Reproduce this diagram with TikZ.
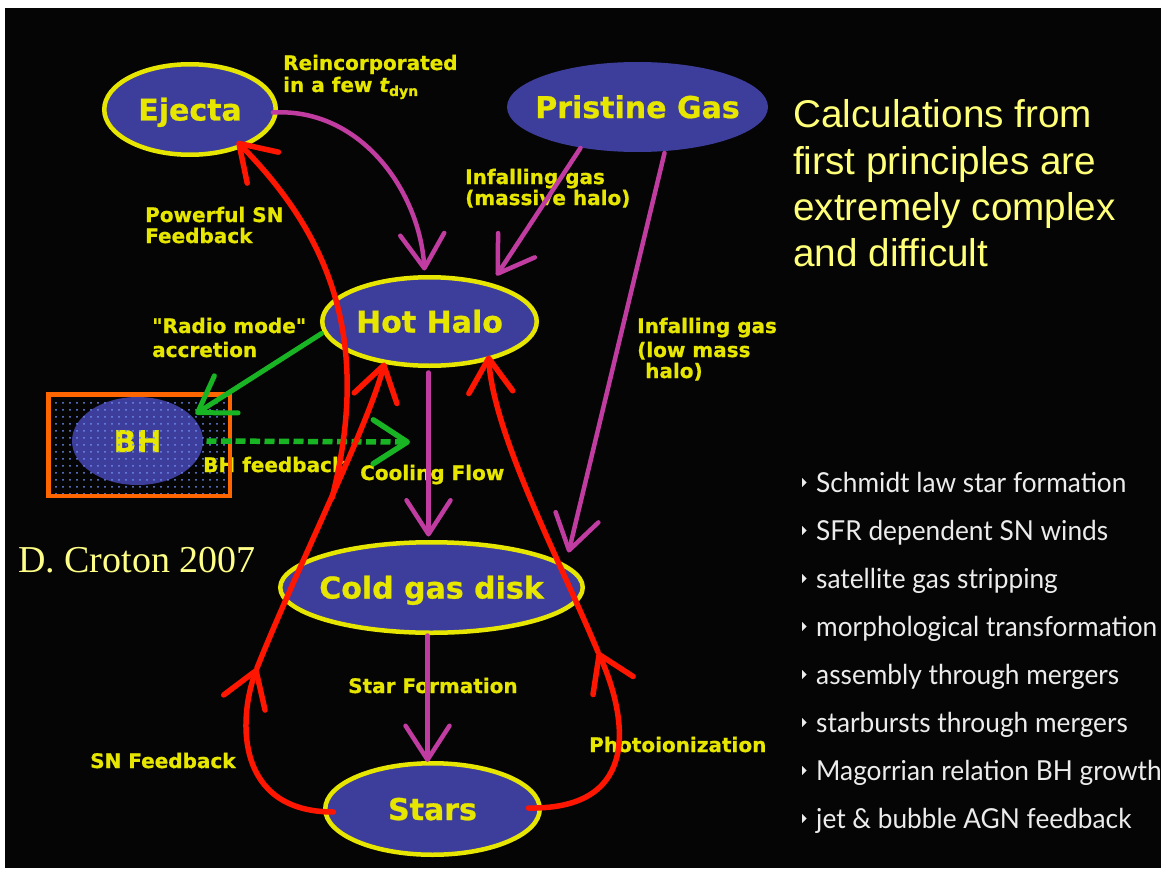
\documentclass[tikz,border=0pt]{standalone}
\usepackage{fontspec}
\setmainfont{DejaVu Sans}
\newfontfamily\diagfont[BoldFeatures={FakeBold=0.8},BoldItalicFeatures={FakeBold=0.8}]{DejaVu Sans}
\newfontfamily\calcfont{Liberation Sans}
\newfontfamily\crotonfont{Liberation Serif}
\newfontfamily\listfont[FakeStretch=0.955]{Lato}
\usetikzlibrary{shapes.geometric,arrows.meta,patterns.meta}
\definecolor{bgblack}{RGB}{5,5,5}
\definecolor{ellblue}{RGB}{61,61,156}
\definecolor{ellyellow}{RGB}{230,230,0}
\definecolor{magline}{RGB}{192,60,160}
\definecolor{grnline}{RGB}{24,180,36}
\definecolor{redline}{RGB}{255,22,0}
\definecolor{boxorange}{RGB}{255,102,0}
\definecolor{calcyellow}{RGB}{255,255,120}
\definecolor{crotonyellow}{RGB}{255,255,135}
\definecolor{listwhite}{RGB}{236,236,236}
\definecolor{dotblue}{RGB}{110,140,240}
\begin{document}
\begin{tikzpicture}[x=1pt,y=-1pt,
  >={Straight Barb[length=34pt,width=44pt,round]},
  ell/.style={ellipse,fill=ellblue,draw=ellyellow,line width=4.5pt,inner sep=0pt,
    text=ellyellow,text height=22pt,text depth=0pt,
    font=\diagfont\bfseries\fontsize{30}{30}\selectfont},
  ellplain/.style={ell,draw=none},
  lbl/.style={anchor=base west,inner sep=0pt,text=ellyellow,
    font=\diagfont\bfseries\fontsize{20}{22}\selectfont},
  magarrow/.style={draw=magline,line width=4.5pt,line cap=round,->},
  grnarrow/.style={draw=grnline,line width=5pt,line cap=round,->},
  redarrow/.style={draw=redline,line width=5.5pt,line cap=round,->},
  calctxt/.style={anchor=base west,inner sep=0pt,text=calcyellow,
    font=\calcfont\fontsize{38.7}{46}\selectfont},
  listtxt/.style={anchor=base west,inner sep=0pt,text=listwhite,
    font=\listfont\fontsize{27.5}{30}\selectfont}]
\useasboundingbox (0,0) rectangle (1161,872);
\fill[white] (0,0) rectangle (1161,872);
\fill[bgblack] (5,8) rectangle (1161,868);

% BH box contents
\node[ellplain,minimum width=131pt,minimum height=88pt] (bh) at (137.5,441) {\makebox[0pt]{BH}};
\path[pattern={Dots[distance=7pt,radius=1pt]},pattern color=dotblue] (48,394) rectangle (230,496);

% main ellipses
\node[ell,minimum width=171.5pt,minimum height=90.5pt] (ejecta) at (190,109.5) {\makebox[0pt]{Ejecta}};
\node[ellplain,minimum width=261pt,minimum height=90pt] (pristine) at (637.5,107) {\makebox[0pt]{Pristine Gas}};
\node[ell,minimum width=214.5pt,minimum height=88.5pt] (hothalo) at (429.5,321.5) {\makebox[0pt]{Hot Halo}};
\node[ell,minimum width=302.5pt,minimum height=90.5pt] (coldgas) at (431.5,587.5) {\makebox[0pt]{Cold gas disk}};
\node[ell,minimum width=214.5pt,minimum height=91.5pt] (stars) at (432.5,809) {\makebox[0pt]{Stars}};

% labels
\node[lbl] (reinc1) at (283,70) {Reincorporated};
\node[lbl] (reinc2) at (283,92) {in a few {\itshape t}\raisebox{-4pt}{\fontsize{14}{14}\selectfont dyn}};
\node[lbl] (infm1) at (465,184) {Infalling gas};
\node[lbl] (infm2) at (465,205) {(massive halo)};
\node[lbl] (pow1) at (145,222) {Powerful SN};
\node[lbl] (pow2) at (145,243) {Feedback};
\node[lbl] (radio1) at (152,333) {"Radio mode"};
\node[lbl] (radio2) at (152,357) {accretion};
\node[lbl] (infl1) at (637,333) {Infalling gas};
\node[lbl] (infl2) at (637,357) {(low mass};
\node[lbl] (infl3) at (645,378) {halo)};
\node[lbl] (bhfb) at (203,472) {BH feedback};
\node[lbl] (cool) at (360,480) {Cooling Flow};
\node[lbl] (starf) at (348,693) {Star Formation};
\node[lbl] (snfb) at (90,768) {SN Feedback};
\node[lbl] (photo) at (589,752) {Photoionization};

% orange frame of BH box
\draw[boxorange,line width=4.5pt] (48.25,394.25) rectangle (229.75,495.75);

% magenta arrows
\draw[magarrow] ([shift={(83,3)}]ejecta.center) .. controls +(87,-5) and +(-5,-80) .. ([shift={(-5,-51)}]hothalo.center);
\draw[magarrow] ([shift={(-57,41)}]pristine.center) -- ([shift={(67,-46)}]hothalo.center);
\draw[magarrow] ([shift={(27,46)}]pristine.center) -- ([shift={(137,-35)}]coldgas.center);
\draw[magarrow] ([shift={(-1,51)}]hothalo.center) -- ([shift={(-3,-51)}]coldgas.center);
\draw[magarrow] ([shift={(-4,48)}]coldgas.center) -- ([shift={(-5,-47)}]stars.center);

% green arrows
\coordinate (bhfbend) at (410,442);
\draw[grnarrow] ([shift={(-108,12)}]hothalo.center) -- ([shift={(58,-27)}]bh.center);
\draw[grnarrow,line width=5.5pt,line cap=butt,dash pattern=on 10pt off 4.5pt] ([shift={(69,0)}]bh.center) -- (bhfbend);

% red arrows
\coordinate (snmid) at (257,668);
\coordinate (photomid) at (598,652);
\coordinate (pwrstart) at (332,498);
\draw[redarrow] ([shift={(-99,3)}]stars.center) .. controls +(-98,0) and +(-19,52) .. (snmid);
\draw[redarrow] (snmid) .. controls +(40,-100) and +(-15,60) .. ([shift={(-45,41)}]hothalo.center);
\draw[redarrow] (pwrstart) .. controls +(40,-158) and +(93,94) .. ([shift={(47,32)}]ejecta.center);
\draw[redarrow] ([shift={(96,-1)}]stars.center) .. controls +(117,2) and +(27,60) .. (photomid);
\draw[redarrow] (photomid) .. controls +(-36,-87) and +(5,80) .. ([shift={(59,34)}]hothalo.center);

% right-hand texts
\node[calctxt] (calc1) at (793,128) {Calculations from};
\node[calctxt] (calc2) at (793,174) {first principles are};
\node[calctxt] (calc3) at (793,220) {extremely complex};
\node[calctxt] (calc4) at (793,266) {and difficult};

\foreach \txt [count=\i] in {Schmidt law star formation,SFR dependent SN winds,satellite gas stripping,morphological transformation,assembly through mergers,starbursts through mergers,Magorrian relation BH growth,jet \& bubble AGN feedback}{
  \node[listtxt] (item\i) at (816,{492+48*(\i-1)}) {\txt};
  \fill[listwhite] (802,{492+48*(\i-1)-14}) -- ++(0,9) -- ++(4.5,-4.5) -- cycle;
}

\node[anchor=base west,inner sep=0pt,text=crotonyellow,font=\crotonfont\fontsize{38}{40}\selectfont] (croton) at (18,572) {D. Croton 2007};
\end{tikzpicture}
\end{document}
